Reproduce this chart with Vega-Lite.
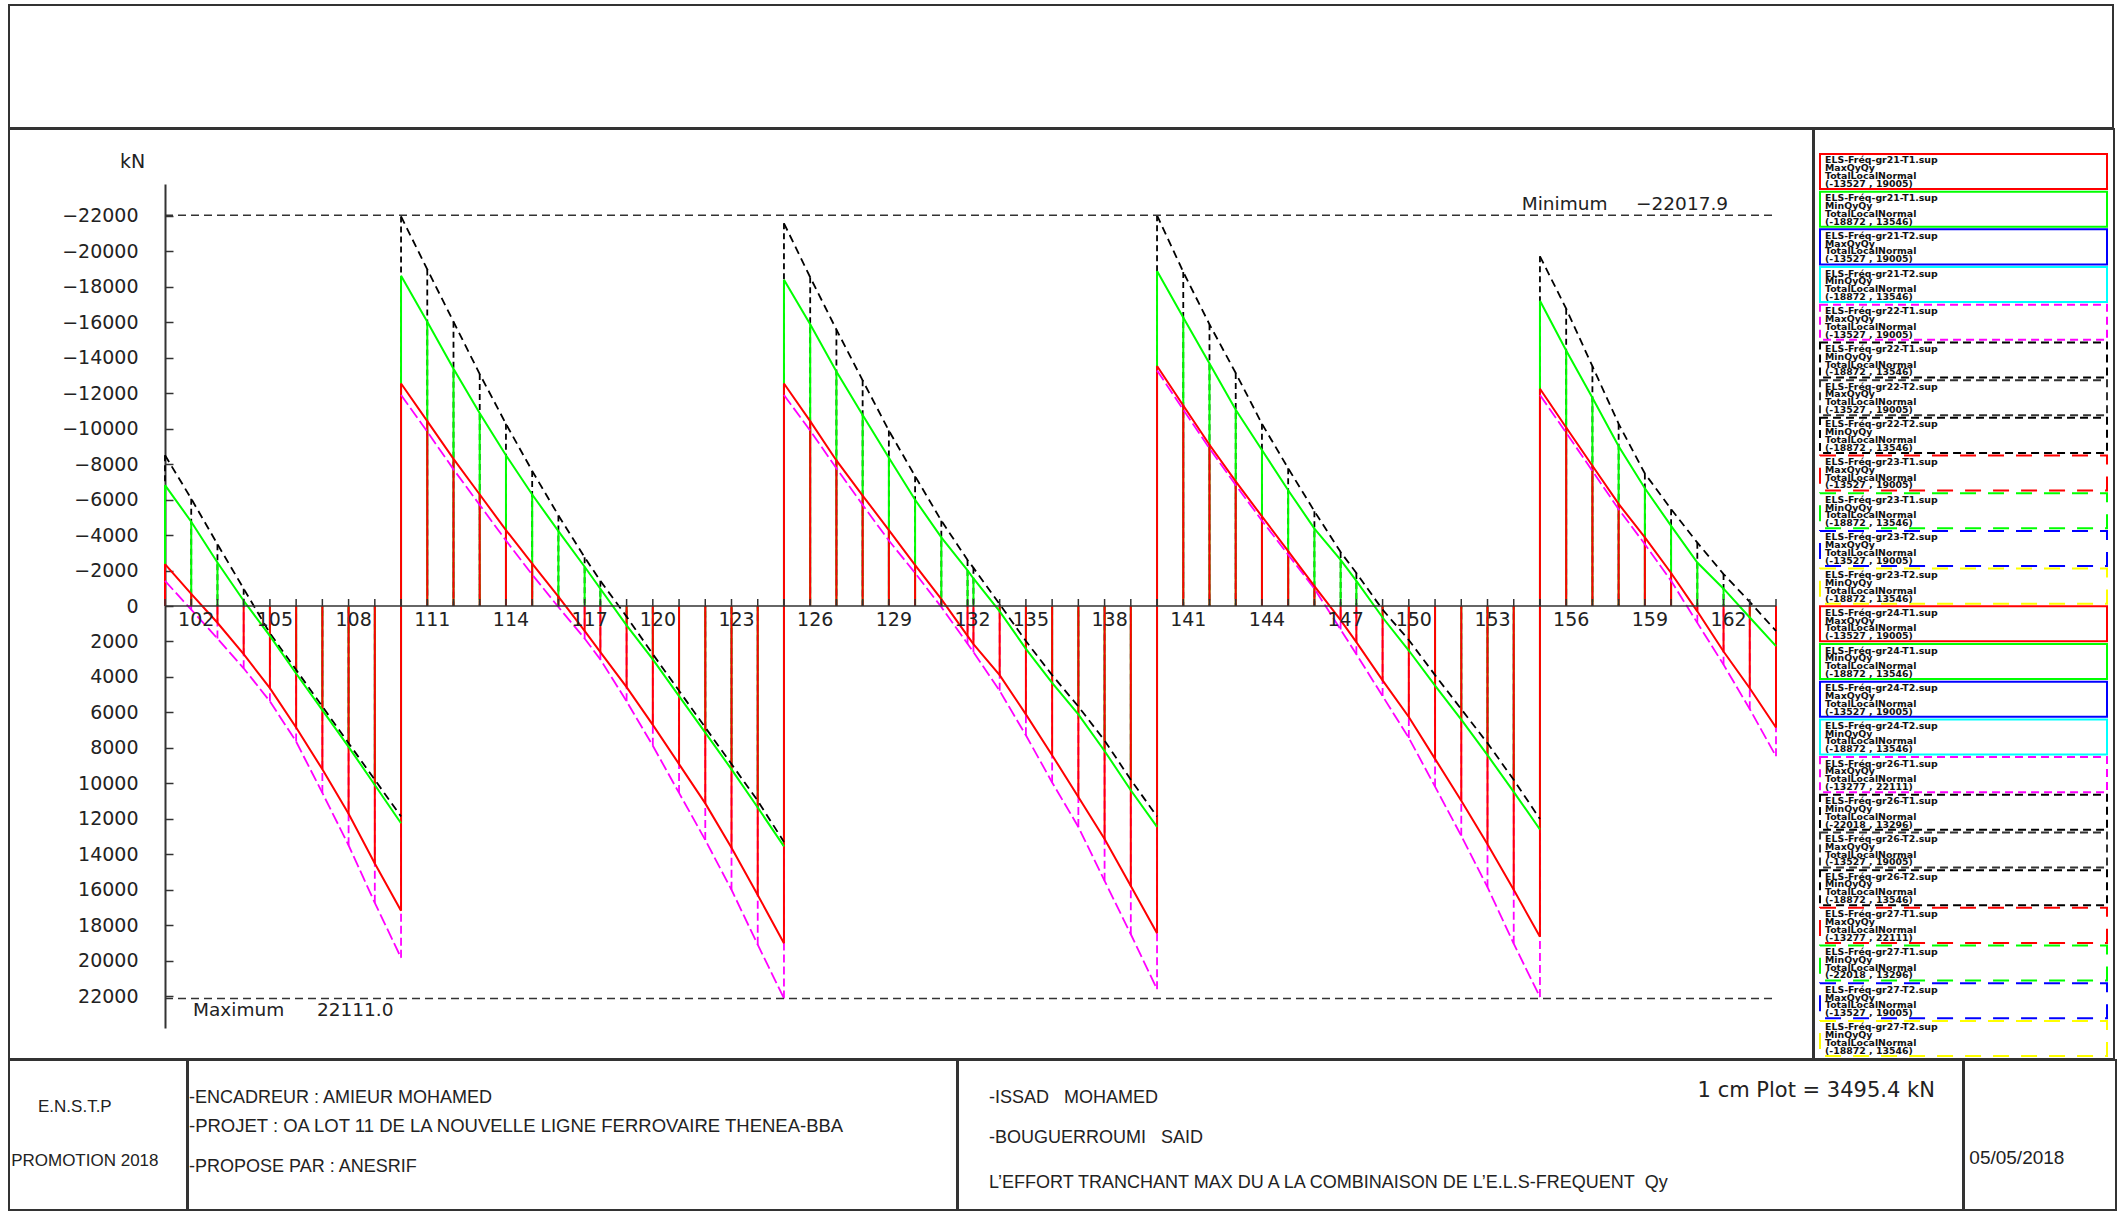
{
  "$schema": "https://vega.github.io/schema/vega-lite/v6.json",
  "background": "white",
  "padding": {"left": 8, "top": 4, "right": 7, "bottom": 2},
  "spacing": -2,
  "config": {"view": {"stroke": "#333333", "strokeWidth": 2}},
  "datasets": {
    "beam": [
      {"n":101,"sp":1,"x":0,"k":-8496,"g":-6815,"r":-2360,"m":-1416},
      {"n":102,"sp":1,"x":2,"k":-6048,"g":-4750,"r":-679,"m":207},
      {"n":103,"sp":1,"x":4,"k":-3481,"g":-2449,"r":944,"m":1829},
      {"n":104,"sp":1,"x":6,"k":-974,"g":-295,"r":2714,"m":3511},
      {"n":105,"sp":1,"x":8,"k":1534,"g":1682,"r":4632,"m":5369},
      {"n":106,"sp":1,"x":10,"k":3599,"g":3806,"r":6844,"m":7641},
      {"n":107,"sp":1,"x":12,"k":5664,"g":5871,"r":9204,"m":10532},
      {"n":108,"sp":1,"x":14,"k":7729,"g":7936,"r":11712,"m":13482},
      {"n":109,"sp":1,"x":16,"k":9794,"g":10089,"r":14514,"m":16727},
      {"n":110,"sp":1,"x":18,"k":11859,"g":12243,"r":17169,"m":19824},
      {"n":110,"sp":2,"x":18,"k":-21950,"g":-18615,"r":-12538,"m":-11889},
      {"n":111,"sp":2,"x":20,"k":-18969,"g":-16019,"r":-10414,"m":-9824},
      {"n":112,"sp":2,"x":22,"k":-16019,"g":-13364,"r":-8290,"m":-7700},
      {"n":113,"sp":2,"x":24,"k":-13069,"g":-10856,"r":-6284,"m":-5694},
      {"n":114,"sp":2,"x":26,"k":-10266,"g":-8496,"r":-4278,"m":-3688},
      {"n":115,"sp":2,"x":28,"k":-7611,"g":-6284,"r":-2390,"m":-1770},
      {"n":116,"sp":2,"x":30,"k":-5104,"g":-4219,"r":-531,"m":59},
      {"n":117,"sp":2,"x":32,"k":-2744,"g":-2213,"r":1400,"m":1829},
      {"n":118,"sp":2,"x":33.2,"k":-1416,"g":-974,"r":2600,"m":3009},
      {"n":119,"sp":2,"x":35.2,"k":600,"g":1092,"r":4573,"m":5369},
      {"n":120,"sp":2,"x":37.2,"k":2714,"g":3009,"r":6697,"m":7877},
      {"n":121,"sp":2,"x":39.2,"k":4779,"g":5074,"r":8909,"m":10532},
      {"n":122,"sp":2,"x":41.2,"k":6844,"g":7139,"r":11122,"m":13187},
      {"n":123,"sp":2,"x":43.2,"k":8909,"g":9204,"r":13629,"m":15989},
      {"n":124,"sp":2,"x":45.2,"k":10974,"g":11358,"r":16284,"m":19087},
      {"n":125,"sp":2,"x":47.2,"k":13296,"g":13546,"r":19005,"m":22111},
      {"n":125,"sp":3,"x":47.2,"k":-21565,"g":-18379,"r":-12538,"m":-11889},
      {"n":126,"sp":3,"x":49.2,"k":-18526,"g":-15871,"r":-10414,"m":-9883},
      {"n":127,"sp":3,"x":51.2,"k":-15576,"g":-13216,"r":-8201,"m":-7759},
      {"n":128,"sp":3,"x":53.2,"k":-12715,"g":-10768,"r":-6225,"m":-5694},
      {"n":129,"sp":3,"x":55.2,"k":-9883,"g":-8349,"r":-4278,"m":-3688},
      {"n":130,"sp":3,"x":57.2,"k":-7316,"g":-5989,"r":-2301,"m":-1859},
      {"n":131,"sp":3,"x":59.2,"k":-4809,"g":-3865,"r":-384,"m":59},
      {"n":132,"sp":3,"x":61.2,"k":-2596,"g":-2006,"r":1682,"m":2124},
      {"n":133,"sp":3,"x":61.65,"k":-2150,"g":-1550,"r":2150,"m":2600},
      {"n":134,"sp":3,"x":63.65,"k":-100,"g":300,"r":3894,"m":4779},
      {"n":135,"sp":3,"x":65.65,"k":1977,"g":2419,"r":6107,"m":7287},
      {"n":136,"sp":3,"x":67.65,"k":3894,"g":4337,"r":8408,"m":9942},
      {"n":137,"sp":3,"x":69.65,"k":5664,"g":6107,"r":10768,"m":12449},
      {"n":138,"sp":3,"x":71.65,"k":7582,"g":8172,"r":13128,"m":15488},
      {"n":139,"sp":3,"x":73.65,"k":9794,"g":10384,"r":15783,"m":18497},
      {"n":140,"sp":3,"x":75.65,"k":11859,"g":12449,"r":18438,"m":21594},
      {"n":140,"sp":4,"x":75.65,"k":-22018,"g":-18872,"r":-13527,"m":-13277},
      {"n":141,"sp":4,"x":77.65,"k":-18821,"g":-16255,"r":-11299,"m":-11063},
      {"n":142,"sp":4,"x":79.65,"k":-15871,"g":-13659,"r":-9086,"m":-8880},
      {"n":143,"sp":4,"x":81.65,"k":-13128,"g":-11063,"r":-7021,"m":-6815},
      {"n":144,"sp":4,"x":83.65,"k":-10266,"g":-8791,"r":-5045,"m":-4809},
      {"n":145,"sp":4,"x":85.65,"k":-7759,"g":-6520,"r":-3098,"m":-2891},
      {"n":146,"sp":4,"x":87.65,"k":-5340,"g":-4366,"r":-1121,"m":-974},
      {"n":147,"sp":4,"x":89.65,"k":-3039,"g":-2596,"r":797,"m":1328},
      {"n":148,"sp":4,"x":90.85,"k":-1859,"g":-1416,"r":2036,"m":2714},
      {"n":149,"sp":4,"x":92.85,"k":207,"g":649,"r":4189,"m":5074},
      {"n":150,"sp":4,"x":94.85,"k":1918,"g":2508,"r":6254,"m":7434},
      {"n":151,"sp":4,"x":96.85,"k":3894,"g":4484,"r":8614,"m":10178},
      {"n":152,"sp":4,"x":98.85,"k":5812,"g":6402,"r":10974,"m":12951},
      {"n":153,"sp":4,"x":100.85,"k":7729,"g":8408,"r":13423,"m":15842},
      {"n":154,"sp":4,"x":102.85,"k":9794,"g":10473,"r":15989,"m":19028},
      {"n":155,"sp":4,"x":104.85,"k":12007,"g":12597,"r":18644,"m":22037},
      {"n":155,"sp":5,"x":104.85,"k":-19706,"g":-17199,"r":-12243,"m":-11889},
      {"n":156,"sp":5,"x":106.85,"k":-16756,"g":-14396,"r":-10060,"m":-9765},
      {"n":157,"sp":5,"x":108.85,"k":-13511,"g":-11741,"r":-7906,"m":-7611},
      {"n":158,"sp":5,"x":110.85,"k":-10266,"g":-8998,"r":-5753,"m":-5458},
      {"n":159,"sp":5,"x":112.85,"k":-7464,"g":-6638,"r":-3865,"m":-3481},
      {"n":160,"sp":5,"x":114.85,"k":-5458,"g":-4514,"r":-1859,"m":-1416},
      {"n":161,"sp":5,"x":116.85,"k":-3570,"g":-2449,"r":300,"m":950},
      {"n":162,"sp":5,"x":118.85,"k":-1800,"g":-976,"r":2567,"m":3304},
      {"n":163,"sp":5,"x":120.85,"k":-236,"g":649,"r":4632,"m":5812},
      {"n":164,"sp":5,"x":122.85,"k":1410,"g":2257,"r":6844,"m":8467}
    ],
    "ext": [
      {"lab": "Minimum", "v": -22017.9},
      {"lab": "Maximum", "v": 22111.0}
    ],
    "zero": [{"v": 0}],
    "leg": [
      {"i":1,"lab":"ELS-Fréq-gr21-T1.sup\nMaxQyQy\nTotalLocalNormal\n(-13527 , 19005)"},
      {"i":2,"lab":"ELS-Fréq-gr21-T1.sup\nMinQyQy\nTotalLocalNormal\n(-18872 , 13546)"},
      {"i":3,"lab":"ELS-Fréq-gr21-T2.sup\nMaxQyQy\nTotalLocalNormal\n(-13527 , 19005)"},
      {"i":4,"lab":"ELS-Fréq-gr21-T2.sup\nMinQyQy\nTotalLocalNormal\n(-18872 , 13546)"},
      {"i":5,"lab":"ELS-Fréq-gr22-T1.sup\nMaxQyQy\nTotalLocalNormal\n(-13527 , 19005)"},
      {"i":6,"lab":"ELS-Fréq-gr22-T1.sup\nMinQyQy\nTotalLocalNormal\n(-18872 , 13546)"},
      {"i":7,"lab":"ELS-Fréq-gr22-T2.sup\nMaxQyQy\nTotalLocalNormal\n(-13527 , 19005)"},
      {"i":8,"lab":"ELS-Fréq-gr22-T2.sup\nMinQyQy\nTotalLocalNormal\n(-18872 , 13546)"},
      {"i":9,"lab":"ELS-Fréq-gr23-T1.sup\nMaxQyQy\nTotalLocalNormal\n(-13527 , 19005)"},
      {"i":10,"lab":"ELS-Fréq-gr23-T1.sup\nMinQyQy\nTotalLocalNormal\n(-18872 , 13546)"},
      {"i":11,"lab":"ELS-Fréq-gr23-T2.sup\nMaxQyQy\nTotalLocalNormal\n(-13527 , 19005)"},
      {"i":12,"lab":"ELS-Fréq-gr23-T2.sup\nMinQyQy\nTotalLocalNormal\n(-18872 , 13546)"},
      {"i":13,"lab":"ELS-Fréq-gr24-T1.sup\nMaxQyQy\nTotalLocalNormal\n(-13527 , 19005)"},
      {"i":14,"lab":"ELS-Fréq-gr24-T1.sup\nMinQyQy\nTotalLocalNormal\n(-18872 , 13546)"},
      {"i":15,"lab":"ELS-Fréq-gr24-T2.sup\nMaxQyQy\nTotalLocalNormal\n(-13527 , 19005)"},
      {"i":16,"lab":"ELS-Fréq-gr24-T2.sup\nMinQyQy\nTotalLocalNormal\n(-18872 , 13546)"},
      {"i":17,"lab":"ELS-Fréq-gr26-T1.sup\nMaxQyQy\nTotalLocalNormal\n(-13277 , 22111)"},
      {"i":18,"lab":"ELS-Fréq-gr26-T1.sup\nMinQyQy\nTotalLocalNormal\n(-22018 , 13296)"},
      {"i":19,"lab":"ELS-Fréq-gr26-T2.sup\nMaxQyQy\nTotalLocalNormal\n(-13527 , 19005)"},
      {"i":20,"lab":"ELS-Fréq-gr26-T2.sup\nMinQyQy\nTotalLocalNormal\n(-18872 , 13546)"},
      {"i":21,"lab":"ELS-Fréq-gr27-T1.sup\nMaxQyQy\nTotalLocalNormal\n(-13277 , 22111)"},
      {"i":22,"lab":"ELS-Fréq-gr27-T1.sup\nMinQyQy\nTotalLocalNormal\n(-22018 , 13296)"},
      {"i":23,"lab":"ELS-Fréq-gr27-T2.sup\nMaxQyQy\nTotalLocalNormal\n(-13527 , 19005)"},
      {"i":24,"lab":"ELS-Fréq-gr27-T2.sup\nMinQyQy\nTotalLocalNormal\n(-18872 , 13546)"}
    ]
  },
  "vconcat": [
    {
      "width": 2104, "height": 123,
      "data": {"values": [{"t": ""}]},
      "mark": {"type": "text"},
      "encoding": {"text": {"field": "t", "type": "nominal"},
        "x": {"datum": 0.5, "type": "quantitative", "axis": null, "scale": {"domain": [0, 1]}},
        "y": {"datum": 0.5, "type": "quantitative", "axis": null, "scale": {"domain": [0, 1]}}}
    },
    {
      "spacing": -2,
      "hconcat": [
        {
          "width": 1804, "height": 930,
          "layer": [
            {
              "data": {"name": "beam"},
              "transform": [{"fold": ["k","g","r","m"], "as": ["s","v"]}, {"filter": "datum.s == 'k'"}],
              "mark": {"type": "rule", "color": "#000000", "strokeWidth": 1.8, "strokeDash": [6,4]},
              "encoding": {
                "x": {"field": "x", "type": "quantitative", "axis": null,
                      "scale": {"domain": [0, 122.85], "range": [156, 1767], "nice": false, "zero": false}},
                "y": {"field": "v", "type": "quantitative",
                      "scale": {"domain": [-23780, 23780], "range": [55, 899], "nice": false, "zero": false},
                      "axis": {"orient": "left", "offset": -156, "grid": false,
                               "values": [-22000,-20000,-18000,-16000,-14000,-12000,-10000,-8000,-6000,-4000,-2000,0,2000,4000,6000,8000,10000,12000,14000,16000,18000,20000,22000],
                               "format": "d", "labelFont": "DejaVu Sans", "labelFontSize": 19, "labelColor": "#222222",
                               "labelPadding": 35, "labelOverlap": false, "labelFlush": false, "labelBound": false,
                               "tickSize": -8, "tickColor": "#333333", "tickWidth": 1.5,
                               "domainColor": "#333333", "domainWidth": 2,
                               "title": "kN", "titleAngle": 0, "titleX": -33, "titleY": 32,
                               "titleAlign": "center", "titleBaseline": "middle",
                               "titleFont": "DejaVu Sans", "titleFontSize": 19, "titleFontWeight": "normal", "titleColor": "#222222"}},
                "y2": {"datum": 0}
              }
            },
            {
              "data": {"name": "beam"},
              "transform": [{"fold": ["k","g","r","m"], "as": ["s","v"]}, {"filter": "datum.s == 'm'"}],
              "mark": {"type": "rule", "color": "#ff00ff", "strokeWidth": 1.8, "strokeDash": [8,4]},
              "encoding": {"x": {"field": "x", "type": "quantitative"}, "y": {"field": "v", "type": "quantitative"}, "y2": {"datum": 0}}
            },
            {
              "data": {"name": "beam"},
              "transform": [{"fold": ["k","g","r","m"], "as": ["s","v"]}, {"filter": "datum.s == 'g'"}],
              "mark": {"type": "rule", "color": "#00ff00", "strokeWidth": 2},
              "encoding": {"x": {"field": "x", "type": "quantitative"}, "y": {"field": "v", "type": "quantitative"}, "y2": {"datum": 0}}
            },
            {
              "data": {"name": "beam"},
              "transform": [{"fold": ["k","g","r","m"], "as": ["s","v"]}, {"filter": "datum.s == 'r'"}],
              "mark": {"type": "rule", "color": "#ff0000", "strokeWidth": 2},
              "encoding": {"x": {"field": "x", "type": "quantitative"}, "y": {"field": "v", "type": "quantitative"}, "y2": {"datum": 0}}
            },
            {
              "data": {"name": "beam"},
              "transform": [{"fold": ["k","g","r","m"], "as": ["s","v"]}, {"filter": "datum.s == 'k'"}],
              "mark": {"type": "line", "color": "#000000", "strokeWidth": 1.8, "strokeDash": [8,5]},
              "encoding": {"x": {"field": "x", "type": "quantitative"}, "y": {"field": "v", "type": "quantitative"}, "detail": {"field": "sp", "type": "nominal"}}
            },
            {
              "data": {"name": "beam"},
              "transform": [{"fold": ["k","g","r","m"], "as": ["s","v"]}, {"filter": "datum.s == 'm'"}],
              "mark": {"type": "line", "color": "#ff00ff", "strokeWidth": 1.8, "strokeDash": [12,4]},
              "encoding": {"x": {"field": "x", "type": "quantitative"}, "y": {"field": "v", "type": "quantitative"}, "detail": {"field": "sp", "type": "nominal"}}
            },
            {
              "data": {"name": "beam"},
              "transform": [{"fold": ["k","g","r","m"], "as": ["s","v"]}, {"filter": "datum.s == 'g'"}],
              "mark": {"type": "line", "color": "#00ff00", "strokeWidth": 2},
              "encoding": {"x": {"field": "x", "type": "quantitative"}, "y": {"field": "v", "type": "quantitative"}, "detail": {"field": "sp", "type": "nominal"}}
            },
            {
              "data": {"name": "beam"},
              "transform": [{"fold": ["k","g","r","m"], "as": ["s","v"]}, {"filter": "datum.s == 'r'"}],
              "mark": {"type": "line", "color": "#ff0000", "strokeWidth": 2},
              "encoding": {"x": {"field": "x", "type": "quantitative"}, "y": {"field": "v", "type": "quantitative"}, "detail": {"field": "sp", "type": "nominal"}}
            },
            {
              "data": {"name": "zero"},
              "mark": {"type": "rule", "color": "#333333", "strokeWidth": 1.5},
              "encoding": {"y": {"field": "v", "type": "quantitative"}, "x": {"datum": 0, "type": "quantitative"}, "x2": {"datum": 122.85}}
            },
            {
              "data": {"name": "ext"},
              "mark": {"type": "rule", "color": "#333333", "strokeWidth": 1.5, "strokeDash": [8,5]},
              "encoding": {"y": {"field": "v", "type": "quantitative"}, "x": {"datum": 0, "type": "quantitative"}, "x2": {"datum": 122.85}}
            },
            {
              "data": {"name": "beam"},
              "mark": {"type": "rule", "color": "#333333", "strokeWidth": 1.5},
              "encoding": {"x": {"field": "x", "type": "quantitative"}, "y": {"datum": 0, "type": "quantitative"}, "y2": {"datum": -395}}
            },
            {
              "data": {"name": "beam"},
              "transform": [{"filter": "datum.n >= 102 && (datum.n - 102) % 3 == 0"}],
              "mark": {"type": "text", "font": "DejaVu Sans", "fontSize": 19, "color": "#222222", "align": "center", "baseline": "alphabetic", "dx": 5, "dy": 20},
              "encoding": {"x": {"field": "x", "type": "quantitative"}, "y": {"datum": 0, "type": "quantitative"}, "text": {"field": "n", "type": "nominal"}}
            },
            {
              "data": {"name": "ext"},
              "transform": [{"filter": "datum.lab == 'Minimum'"}],
              "mark": {"type": "text", "font": "DejaVu Sans", "fontSize": 18.5, "color": "#222222", "align": "left", "baseline": "alphabetic", "dy": -5},
              "encoding": {"x": {"datum": 103.46, "type": "quantitative"}, "y": {"field": "v", "type": "quantitative"}, "text": {"field": "lab", "type": "nominal"}}
            },
            {
              "data": {"name": "ext"},
              "transform": [{"filter": "datum.lab == 'Minimum'"}],
              "mark": {"type": "text", "font": "DejaVu Sans", "fontSize": 18.5, "color": "#222222", "align": "left", "baseline": "alphabetic", "dy": -5},
              "encoding": {"x": {"datum": 112.18, "type": "quantitative"}, "y": {"field": "v", "type": "quantitative"}, "text": {"field": "v", "type": "quantitative", "format": ".1f"}}
            },
            {
              "data": {"name": "ext"},
              "transform": [{"filter": "datum.lab == 'Maximum'"}],
              "mark": {"type": "text", "font": "DejaVu Sans", "fontSize": 18.5, "color": "#222222", "align": "left", "baseline": "alphabetic", "dy": 18},
              "encoding": {"x": {"datum": 2.14, "type": "quantitative"}, "y": {"field": "v", "type": "quantitative"}, "text": {"field": "lab", "type": "nominal"}}
            },
            {
              "data": {"name": "ext"},
              "transform": [{"filter": "datum.lab == 'Maximum'"}],
              "mark": {"type": "text", "font": "DejaVu Sans", "fontSize": 18.5, "color": "#222222", "align": "left", "baseline": "alphabetic", "dy": 18},
              "encoding": {"x": {"datum": 11.59, "type": "quantitative"}, "y": {"field": "v", "type": "quantitative"}, "text": {"field": "v", "type": "quantitative", "format": ".1f"}}
            }
          ]
        },
        {
          "width": 300, "height": 930,
          "data": {"name": "leg"},
          "encoding": {
            "y": {"field": "i", "type": "ordinal", "axis": null,
                  "scale": {"type": "band", "paddingInner": 0.07, "paddingOuter": 0.371, "align": 0.893}},
            "x": {"datum": 0, "type": "quantitative", "axis": null, "scale": {"domain": [0, 1], "range": [6, 293]}},
            "stroke": {"field": "i", "type": "nominal", "legend": null,
                       "scale": {"domain": [1,2,3,4,5,6,7,8,9,10,11,12,13,14,15,16,17,18,19,20,21,22,23,24],
                                 "range": ["#ff0000","#00ff00","#0000ff","#00ffff","#ff00ff","#000000","#333333","#000000","#ff0000","#00ff00","#0000ff","#ffff00","#ff0000","#00ff00","#0000ff","#00ffff","#ff00ff","#000000","#333333","#000000","#ff0000","#00ff00","#0000ff","#ffff00"]}}
          },
          "layer": [
            {
              "transform": [{"filter": "indexof([1,2,3,4,13,14,15,16], datum.i) >= 0"}],
              "mark": {"type": "rect", "fill": "white", "fillOpacity": 0, "strokeWidth": 2},
              "encoding": {"x2": {"datum": 1}}
            },
            {
              "transform": [{"filter": "indexof([5,6,7,8,17,18,19,20], datum.i) >= 0"}],
              "mark": {"type": "rect", "fill": "white", "fillOpacity": 0, "strokeWidth": 2, "strokeDash": [8,5]},
              "encoding": {"x2": {"datum": 1}}
            },
            {
              "transform": [{"filter": "indexof([9,10,11,12,21,22,23,24], datum.i) >= 0"}],
              "mark": {"type": "rect", "fill": "white", "fillOpacity": 0, "strokeWidth": 2, "strokeDash": [16,12]},
              "encoding": {"x2": {"datum": 1}}
            },
            {
              "mark": {"type": "text", "align": "left", "baseline": "top", "lineBreak": "\n", "lineHeight": 7.8,
                       "font": "DejaVu Sans", "fontSize": 9.4, "fontWeight": "bold", "color": "#111111", "dx": 5, "dy": 2.5},
              "encoding": {
                "y": {"field": "i", "type": "ordinal", "axis": null, "bandPosition": 0},
                "text": {"field": "lab", "type": "nominal"},
                "stroke": {"value": null}
              }
            }
          ]
        }
      ]
    },
    {
      "spacing": -2,
      "hconcat": [
        {
          "width": 178, "height": 150,
          "layer": [
            {
              "data": {"values": [{"t": "E.N.S.T.P"}]},
              "mark": {"type": "text", "align": "left", "baseline": "middle", "font": "Liberation Sans", "fontSize": 17, "color": "#222222"},
              "encoding": {"text": {"field": "t"},
                "x": {"datum": 0.163, "type": "quantitative", "axis": null, "scale": {"domain": [0, 1]}},
                "y": {"datum": 0.313, "type": "quantitative", "axis": null, "scale": {"domain": [0, 1], "reverse": true}}}
            },
            {
              "data": {"values": [{"t": "PROMOTION 2018"}]},
              "mark": {"type": "text", "align": "left", "baseline": "middle", "font": "Liberation Sans", "fontSize": 17, "color": "#222222"},
              "encoding": {"text": {"field": "t"},
                "x": {"datum": 0.012, "type": "quantitative"},
                "y": {"datum": 0.673, "type": "quantitative"}}
            }
          ]
        },
        {
          "width": 769, "height": 150,
          "layer": [
            {
              "data": {"values": [{"t": "-ENCADREUR : AMIEUR MOHAMED"}]},
              "mark": {"type": "text", "align": "left", "baseline": "middle", "font": "Liberation Sans", "fontSize": 18, "color": "#222222", "dx": 1},
              "encoding": {"text": {"field": "t"},
                "x": {"datum": 0, "type": "quantitative", "axis": null, "scale": {"domain": [0, 1]}},
                "y": {"datum": 0.25, "type": "quantitative", "axis": null, "scale": {"domain": [0, 1], "reverse": true}}}
            },
            {
              "data": {"values": [{"t": "-PROJET : OA LOT 11 DE LA NOUVELLE LIGNE FERROVAIRE THENEA-BBA"}]},
              "mark": {"type": "text", "align": "left", "baseline": "middle", "font": "Liberation Sans", "fontSize": 18.5, "color": "#222222", "dx": 1},
              "encoding": {"text": {"field": "t"},
                "x": {"datum": 0, "type": "quantitative"},
                "y": {"datum": 0.44, "type": "quantitative"}}
            },
            {
              "data": {"values": [{"t": "-PROPOSE PAR : ANESRIF"}]},
              "mark": {"type": "text", "align": "left", "baseline": "middle", "font": "Liberation Sans", "fontSize": 18, "color": "#222222", "dx": 1},
              "encoding": {"text": {"field": "t"},
                "x": {"datum": 0, "type": "quantitative"},
                "y": {"datum": 0.71, "type": "quantitative"}}
            }
          ]
        },
        {
          "width": 1005, "height": 150,
          "layer": [
            {
              "data": {"values": [{"t": "-ISSAD\u00a0\u00a0\u00a0MOHAMED"}]},
              "mark": {"type": "text", "align": "left", "baseline": "middle", "font": "Liberation Sans", "fontSize": 18, "color": "#222222"},
              "encoding": {"text": {"field": "t"},
                "x": {"datum": 0.0308, "type": "quantitative", "axis": null, "scale": {"domain": [0, 1]}},
                "y": {"datum": 0.25, "type": "quantitative", "axis": null, "scale": {"domain": [0, 1], "reverse": true}}}
            },
            {
              "data": {"values": [{"t": "-BOUGUERROUMI\u00a0\u00a0\u00a0SAID"}]},
              "mark": {"type": "text", "align": "left", "baseline": "middle", "font": "Liberation Sans", "fontSize": 18, "color": "#222222"},
              "encoding": {"text": {"field": "t"},
                "x": {"datum": 0.0308, "type": "quantitative"},
                "y": {"datum": 0.517, "type": "quantitative"}}
            },
            {
              "data": {"values": [{"t": "L’EFFORT TRANCHANT MAX DU A LA COMBINAISON DE L’E.L.S-FREQUENT\u00a0\u00a0Qy"}]},
              "mark": {"type": "text", "align": "left", "baseline": "middle", "font": "Liberation Sans", "fontSize": 18, "color": "#222222"},
              "encoding": {"text": {"field": "t"},
                "x": {"datum": 0.0308, "type": "quantitative"},
                "y": {"datum": 0.818, "type": "quantitative"}}
            },
            {
              "data": {"values": [{"t": "1 cm Plot = 3495.4 kN"}]},
              "mark": {"type": "text", "align": "right", "baseline": "middle", "font": "DejaVu Sans", "fontSize": 21, "color": "#222222"},
              "encoding": {"text": {"field": "t"},
                "x": {"datum": 0.972, "type": "quantitative"},
                "y": {"datum": 0.207, "type": "quantitative"}}
            }
          ]
        },
        {
          "width": 152, "height": 150,
          "data": {"values": [{"t": "05/05/2018"}]},
          "mark": {"type": "text", "align": "left", "baseline": "middle", "font": "Liberation Sans", "fontSize": 19, "color": "#222222"},
          "encoding": {"text": {"field": "t"},
            "x": {"datum": 0.035, "type": "quantitative", "axis": null, "scale": {"domain": [0, 1]}},
            "y": {"datum": 0.655, "type": "quantitative", "axis": null, "scale": {"domain": [0, 1], "reverse": true}}}
        }
      ]
    }
  ]
}
